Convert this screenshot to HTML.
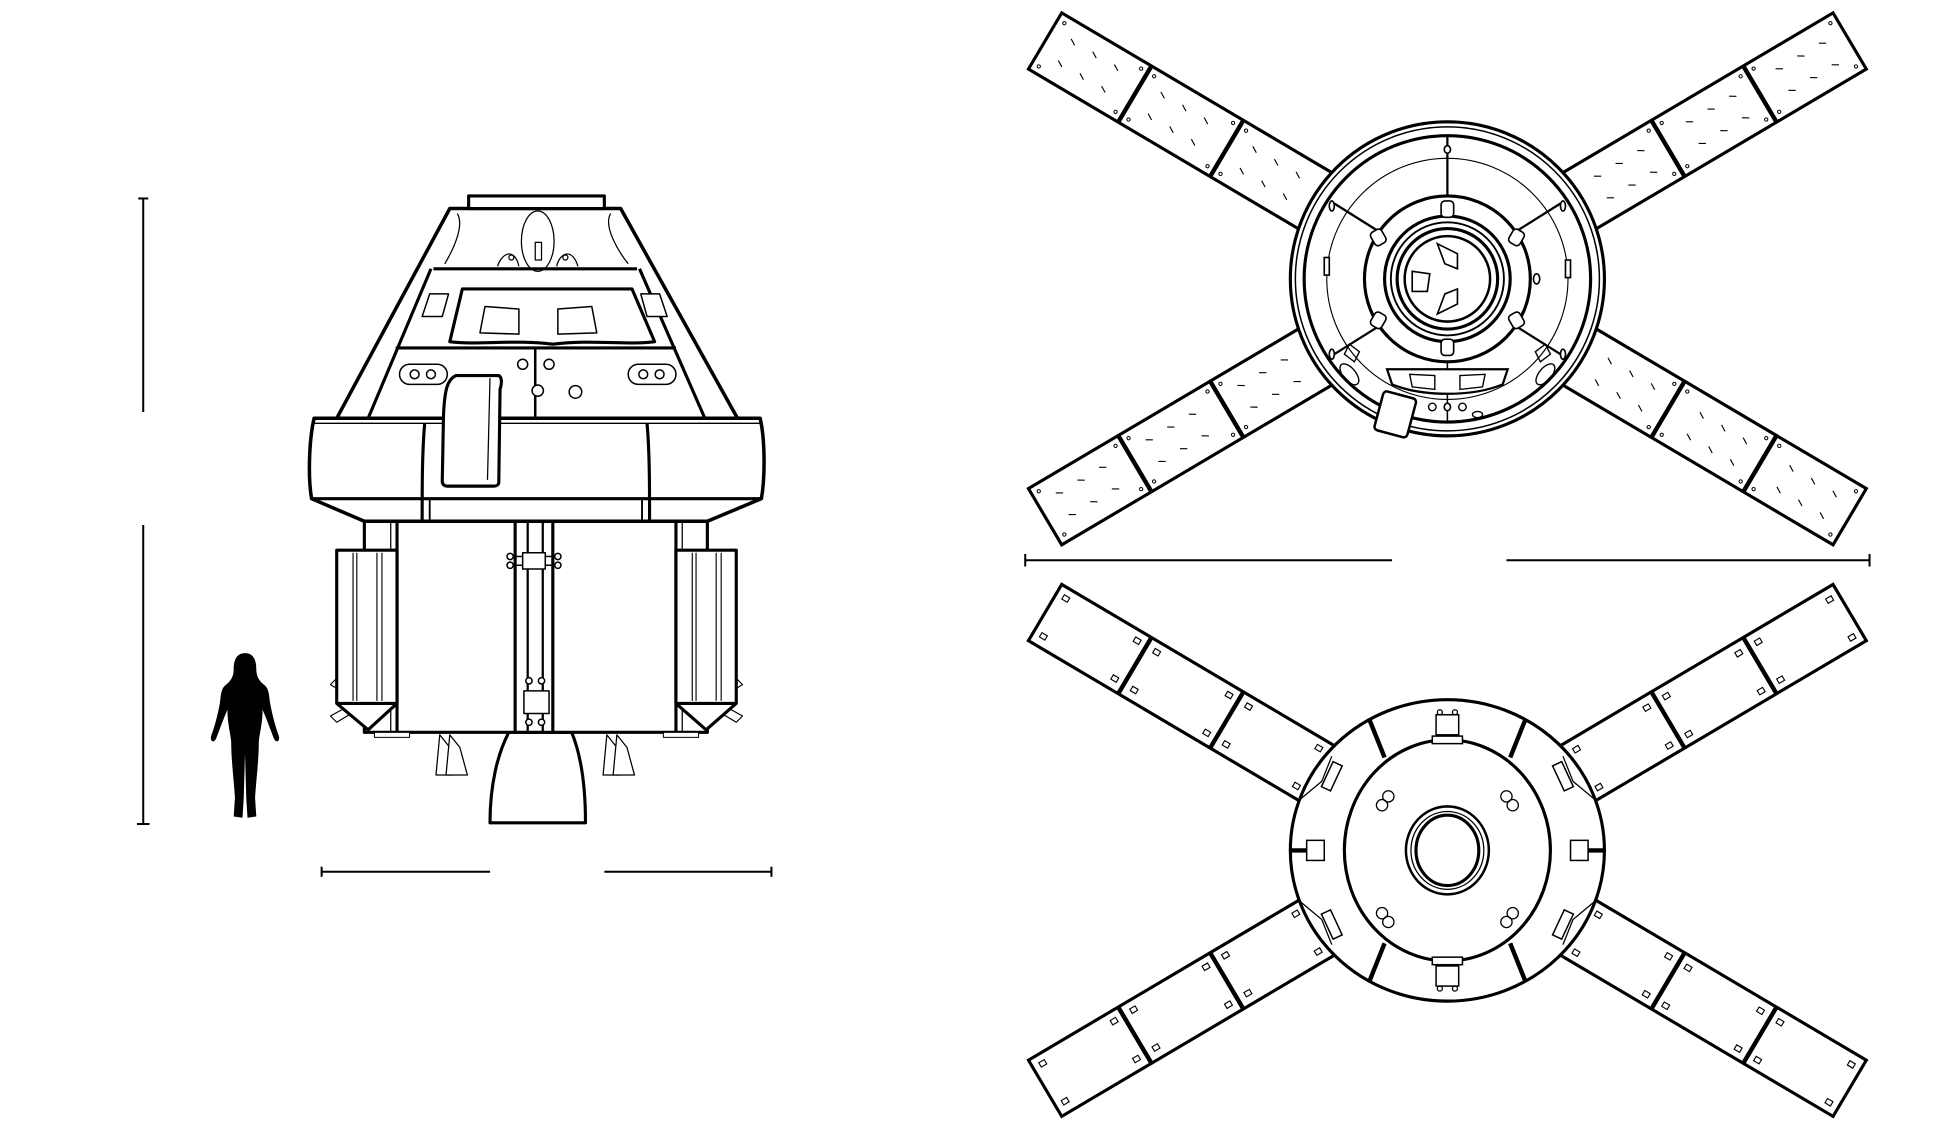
<!DOCTYPE html>
<html><head><meta charset="utf-8"><style>html,body{margin:0;padding:0;background:#fff}svg{display:block}</style></head>
<body>
<svg width="1960" height="1128" viewBox="0 0 1560 898" preserveAspectRatio="none" xmlns="http://www.w3.org/2000/svg">
<defs>
<g id="armT">
  <rect x="-372" y="-26" width="262" height="52" fill="#fff" stroke="#000" stroke-width="2.5"/>
  <line x1="-289" y1="-26" x2="-289" y2="26" stroke="#000" stroke-width="3.5"/>
  <line x1="-204" y1="-26" x2="-204" y2="26" stroke="#000" stroke-width="3.5"/>
  <g stroke="#000" stroke-width="0.9">
    <line x1="-355" y1="-12" x2="-350" y2="-9"/><line x1="-335" y1="-12" x2="-330" y2="-9"/><line x1="-315" y1="-12" x2="-310" y2="-9"/>
    <line x1="-355" y1="8" x2="-350" y2="11"/><line x1="-335" y1="8" x2="-330" y2="11"/><line x1="-315" y1="8" x2="-310" y2="11"/>
    <line x1="-272" y1="-12" x2="-267" y2="-9"/><line x1="-252" y1="-12" x2="-247" y2="-9"/><line x1="-232" y1="-12" x2="-227" y2="-9"/>
    <line x1="-272" y1="8" x2="-267" y2="11"/><line x1="-252" y1="8" x2="-247" y2="11"/><line x1="-232" y1="8" x2="-227" y2="11"/>
    <line x1="-187" y1="-12" x2="-182" y2="-9"/><line x1="-167" y1="-12" x2="-162" y2="-9"/><line x1="-147" y1="-12" x2="-142" y2="-9"/>
    <line x1="-187" y1="8" x2="-182" y2="11"/><line x1="-167" y1="8" x2="-162" y2="11"/><line x1="-147" y1="8" x2="-142" y2="11"/>
  </g>
  <g fill="none" stroke="#000" stroke-width="0.8">
    <circle cx="-366" cy="-20" r="1.3"/><circle cx="-366" cy="20" r="1.3"/><circle cx="-295" cy="-20" r="1.3"/><circle cx="-295" cy="20" r="1.3"/>
    <circle cx="-283" cy="-20" r="1.3"/><circle cx="-283" cy="20" r="1.3"/><circle cx="-210" cy="-20" r="1.3"/><circle cx="-210" cy="20" r="1.3"/>
    <circle cx="-198" cy="-20" r="1.3"/><circle cx="-198" cy="20" r="1.3"/>
  </g>
</g>
<g id="armB">
  <rect x="-372" y="-26" width="258" height="52" fill="#fff" stroke="#000" stroke-width="2.5"/>
  <line x1="-289" y1="-26" x2="-289" y2="26" stroke="#000" stroke-width="3.5"/>
  <line x1="-204" y1="-26" x2="-204" y2="26" stroke="#000" stroke-width="3.5"/>
  <g fill="none" stroke="#000" stroke-width="0.9">
    <rect x="-366" y="-20" width="5" height="4"/><rect x="-366" y="15" width="5" height="4"/><rect x="-300" y="-20" width="5" height="4"/><rect x="-300" y="15" width="5" height="4"/>
    <rect x="-282" y="-20" width="5" height="4"/><rect x="-282" y="15" width="5" height="4"/><rect x="-215" y="-20" width="5" height="4"/><rect x="-215" y="15" width="5" height="4"/>
    <rect x="-197" y="-20" width="5" height="4"/><rect x="-197" y="15" width="5" height="4"/><rect x="-132" y="-20" width="5" height="4"/><rect x="-132" y="15" width="5" height="4"/>
  </g>
</g>
</defs>

<g stroke="#000" stroke-width="1.6" fill="none">
  <line x1="114" y1="158" x2="114" y2="328"/><line x1="110" y1="158" x2="118" y2="158"/>
  <line x1="114" y1="418" x2="114" y2="656"/><line x1="109" y1="656" x2="119" y2="656"/>
  <line x1="256" y1="694" x2="390" y2="694"/><line x1="256" y1="690" x2="256" y2="698"/>
  <line x1="481" y1="694" x2="614" y2="694"/><line x1="614" y1="690" x2="614" y2="698"/>
  <line x1="816" y1="446" x2="1108" y2="446"/><line x1="816" y1="441" x2="816" y2="451"/>
  <line x1="1199" y1="446" x2="1488" y2="446"/><line x1="1488" y1="441" x2="1488" y2="451"/>
</g>

<path d="M195 520 C188 520 186 526 186 533 C186 538 184 542 180 545 C176 548 176 552 175 560 C173 570 171 578 168 586 C167 590 170 592 172 588 C175 580 178 572 181 565 C181 575 183 582 184 590 C184 605 186 620 187 635 L186 650 L193 651 L194 635 L195 600 L196 635 L197 651 L204 650 L203 635 C204 620 206 605 206 590 C207 582 209 575 209 565 C212 572 215 580 218 588 C220 592 223 590 222 586 C219 578 217 570 215 560 C214 552 214 548 210 545 C206 542 204 538 204 533 C204 526 202 520 195 520 Z" fill="#000"/>

<g stroke="#000" fill="#fff" stroke-linejoin="round">
  <g stroke-width="1" fill="#fff">
    <path d="M350 585 L347 617 L361 617 L358 595 Z"/><path d="M358 585 L355 617 L372 617 L366 595 Z"/>
    <path d="M483 585 L480 617 L494 617 L491 595 Z"/><path d="M491 585 L488 617 L505 617 L499 595 Z"/>
  </g>
  <path d="M405 583 L455 583 C462 600 466 625 466 655 L390 655 C390 625 396 600 405 583 Z" stroke-width="2.5"/>
  <rect x="290" y="415" width="273" height="168" stroke-width="2.5"/>
  <line x1="316" y1="415" x2="316" y2="583" stroke-width="2.5"/>
  <line x1="538" y1="415" x2="538" y2="583" stroke-width="2.5"/>
  <line x1="311" y1="415" x2="311" y2="583" stroke-width="1"/>
  <line x1="543" y1="415" x2="543" y2="583" stroke-width="1"/>
  <line x1="410" y1="415" x2="410" y2="583" stroke-width="2.5"/>
  <line x1="440" y1="415" x2="440" y2="583" stroke-width="2.5"/>
  <line x1="420" y1="415" x2="420" y2="583" stroke-width="1.8"/>
  <line x1="432" y1="415" x2="432" y2="583" stroke-width="1.8"/>
  <rect x="298" y="583" width="28" height="4" stroke-width="0.8"/>
  <rect x="528" y="583" width="28" height="4" stroke-width="0.8"/>
  <g stroke-width="1.2">
    <rect x="416" y="440" width="18" height="13"/>
    <circle cx="406" cy="443" r="2.5"/><circle cx="406" cy="450" r="2.5"/><circle cx="444" cy="443" r="2.5"/><circle cx="444" cy="450" r="2.5"/>
    <line x1="408" y1="443" x2="416" y2="443"/><line x1="408" y1="450" x2="416" y2="450"/><line x1="434" y1="443" x2="442" y2="443"/><line x1="434" y1="450" x2="442" y2="450"/>
    <rect x="417" y="550" width="20" height="18"/>
    <circle cx="421" cy="542" r="2.5"/><circle cx="431" cy="542" r="2.5"/><circle cx="421" cy="575" r="2.5"/><circle cx="431" cy="575" r="2.5"/>
  </g>
  <!-- side pods (in front) -->
  <g stroke-width="2.5">
    <path d="M268 438 L316 438 L316 560 L293 581 L268 560 Z"/>
    <line x1="268" y1="560" x2="316" y2="560"/>
    <path d="M538 438 L586 438 L586 560 L562 581 L538 560 Z"/>
    <line x1="538" y1="560" x2="586" y2="560"/>
  </g>
  <g stroke-width="0.9" fill="none">
    <line x1="281" y1="440" x2="281" y2="558"/><line x1="284" y1="440" x2="284" y2="558"/><line x1="300" y1="440" x2="300" y2="558"/><line x1="304" y1="440" x2="304" y2="558"/>
    <line x1="551" y1="440" x2="551" y2="558"/><line x1="554" y1="440" x2="554" y2="558"/><line x1="570" y1="440" x2="570" y2="558"/><line x1="574" y1="440" x2="574" y2="558"/>
    <path d="M268 540 L263 545 L268 548"/><path d="M586 540 L591 545 L586 548"/>
    <path d="M272 565 L263 570 L268 575 L278 569"/><path d="M582 565 L591 570 L586 575 L576 569"/>
  </g>
  <path d="M250 333 L605 333 C609 350 609 380 606 397 L563 415 L290 415 L248 397 C245 380 246 350 250 333 Z" stroke-width="2.8"/>
  <line x1="248" y1="397" x2="606" y2="397" stroke-width="2.5"/>
  <line x1="250" y1="337" x2="605" y2="337" stroke-width="1"/>
  <path d="M338 337 C336 360 336 385 336 415" fill="none" stroke-width="2.5"/>
  <line x1="342" y1="397" x2="342" y2="415" stroke-width="1.5"/>
  <path d="M515 337 C517 360 517 385 517 415" fill="none" stroke-width="2.5"/>
  <line x1="511" y1="397" x2="511" y2="415" stroke-width="1.5"/>
  <path d="M358 166 L494 166 L587 333 L268 333 Z" stroke-width="2.8"/>
  <line x1="345" y1="214" x2="507" y2="214" stroke-width="2.5"/>
  <line x1="315" y1="277" x2="538" y2="277" stroke-width="2.5"/>
  <line x1="343" y1="214" x2="293" y2="333" stroke-width="2.5"/>
  <line x1="509" y1="214" x2="561" y2="333" stroke-width="2.5"/>
  <line x1="426" y1="277" x2="426" y2="333" stroke-width="2"/>
  <rect x="373" y="156" width="108" height="10" stroke-width="2.5"/>
  <g stroke-width="1" fill="none">
    <ellipse cx="428" cy="192" rx="13" ry="24"/>
    <rect x="426" y="193" width="5" height="14"/>
    <path d="M396 212 C400 200 410 198 413 212"/><circle cx="407" cy="205" r="2"/>
    <path d="M443 212 C446 200 456 198 460 212"/><circle cx="450" cy="205" r="2"/>
    <path d="M364 170 C370 180 360 200 354 210"/><path d="M486 170 C480 180 492 200 500 210"/>
  </g>
  <path d="M368 230 L503 230 L521 272 C500 275 470 270 440 274 C410 270 380 275 358 272 Z" stroke-width="2.5"/>
  <g stroke-width="1.2">
    <path d="M386 244 L413 246 L413 266 L382 265 Z"/><path d="M444 246 L471 244 L475 265 L444 266 Z"/>
    <path d="M342 234 L357 234 L352 252 L336 252 Z"/><path d="M510 234 L525 234 L531 252 L515 252 Z"/>
  </g>
  <g stroke-width="1.2">
    <rect x="318" y="290" width="38" height="16" rx="8"/><circle cx="330" cy="298" r="3.5"/><circle cx="343" cy="298" r="3.5"/>
    <rect x="500" y="290" width="38" height="16" rx="8"/><circle cx="512" cy="298" r="3.5"/><circle cx="525" cy="298" r="3.5"/>
    <circle cx="416" cy="290" r="4"/><circle cx="437" cy="290" r="4"/><circle cx="428" cy="311" r="4.5"/><circle cx="458" cy="312" r="5"/>
  </g>
  <path d="M363 299 L397 299 C399 300 400 304 398 310 L397 384 C397 386 395 387 393 387 L356 387 C353 387 352 385 352 383 L353 330 C354 310 356 302 363 299 Z" stroke-width="2.5"/>
  <line x1="390" y1="301" x2="388" y2="382" stroke-width="1"/>
</g>

<g transform="translate(1152,222)">
  <use href="#armT" transform="rotate(30.6)"/>
  <use href="#armT" transform="rotate(-30.6)"/>
  <use href="#armT" transform="rotate(149.4)"/>
  <use href="#armT" transform="rotate(-149.4)"/>
</g>
<g transform="translate(1152,222)" stroke="#000" fill="none">
  <circle r="125" fill="#fff" stroke-width="2.5"/>
  <circle r="121" stroke-width="1.2"/>
  <circle r="114" stroke-width="2.5"/>
  <circle r="96" stroke-width="0.9"/>
  <circle r="66" stroke-width="2.5"/>
  <circle r="50" stroke-width="2.5"/>
  <circle r="45" stroke-width="1.5"/>
  <circle r="40" stroke-width="2.5"/>
  <circle r="34" stroke-width="2"/>
  <line x1="0" y1="-114" x2="0" y2="-66" stroke-width="1.8"/>
  <line x1="0" y1="66" x2="0" y2="114" stroke-width="1.2"/>
  <line x1="-90" y1="-60" x2="-55" y2="-38" stroke-width="1.8"/>
  <line x1="90" y1="-60" x2="55" y2="-38" stroke-width="1.8"/>
  <line x1="-90" y1="60" x2="-55" y2="38" stroke-width="1.8"/>
  <line x1="90" y1="60" x2="55" y2="38" stroke-width="1.8"/>
  <g stroke-width="1.3" fill="#fff">
    <ellipse cx="0" cy="-103" rx="2.5" ry="3"/><ellipse cx="0" cy="102" rx="2.5" ry="3"/>
    <ellipse cx="-92" cy="-58" rx="2" ry="4"/><ellipse cx="92" cy="-58" rx="2" ry="4"/>
    <ellipse cx="-92" cy="60" rx="2" ry="4"/><ellipse cx="92" cy="60" rx="2" ry="4"/>
    <rect x="-5" y="-62" width="10" height="13" rx="3"/><rect x="-5" y="48" width="10" height="13" rx="3"/>
    <rect x="-60" y="-39" width="10" height="12" rx="3" transform="rotate(-30 -55 -33)"/>
    <rect x="50" y="-39" width="10" height="12" rx="3" transform="rotate(30 55 -33)"/>
    <rect x="-60" y="27" width="10" height="12" rx="3" transform="rotate(30 -55 33)"/>
    <rect x="50" y="27" width="10" height="12" rx="3" transform="rotate(-30 55 33)"/>
    <ellipse cx="71" cy="0" rx="2.5" ry="4"/>
    <rect x="-98" y="-17" width="4" height="14"/><rect x="94" y="-15" width="4" height="14"/>
  </g>
  <g stroke-width="1.3">
    <path d="M-8 -28 L8 -20 L8 -8 L-2 -12 Z"/><path d="M-28 -6 L-14 -4 L-16 10 L-28 10 Z"/><path d="M-8 28 L8 20 L8 8 L-2 12 Z"/>
  </g>
  <g stroke-width="1.8" fill="#fff">
    <path d="M-48 72 L48 72 L44 84 C20 94 -20 94 -44 84 Z"/>
  </g>
  <g stroke-width="1.1">
    <path d="M-30 76 L-10 77 L-10 88 L-28 86 Z"/><path d="M10 77 L30 76 L28 86 L10 88 Z"/>
    <path d="M-78 52 L-70 58 L-74 66 L-82 60 Z"/><path d="M78 52 L70 58 L74 66 L82 60 Z"/>
    <ellipse cx="-78" cy="76" rx="5" ry="10" transform="rotate(-40 -78 76)"/><ellipse cx="78" cy="76" rx="5" ry="10" transform="rotate(40 78 76)"/>
    <circle cx="-12" cy="102" r="3"/><circle cx="12" cy="102" r="3"/><ellipse cx="24" cy="108" rx="4" ry="2.5"/>
  </g>
  <rect x="-55" y="92" width="27" height="32" rx="3" fill="#fff" stroke-width="2" transform="rotate(15 -41 108)"/>
</g>

<g transform="translate(1152,677)">
  <use href="#armB" transform="rotate(30.6)"/>
  <use href="#armB" transform="rotate(-30.6)"/>
  <use href="#armB" transform="rotate(149.4)"/>
  <use href="#armB" transform="rotate(-149.4)"/>
</g>
<g transform="translate(1152,677)" stroke="#000" fill="none">
  <ellipse rx="125" ry="120" fill="#fff" stroke-width="2.5"/>
  <ellipse rx="82" ry="88" stroke-width="2.5"/>
  <g stroke-width="3.5">
    <line x1="-62" y1="-104" x2="-50" y2="-74"/><line x1="62" y1="-104" x2="50" y2="-74"/>
    <line x1="-62" y1="104" x2="-50" y2="74"/><line x1="62" y1="104" x2="50" y2="74"/>
    <line x1="-125" y1="0" x2="-112" y2="0"/><line x1="125" y1="0" x2="112" y2="0"/>
  </g>
  <g stroke-width="1.2" fill="#fff">
    <rect x="-12" y="-91" width="24" height="6"/><rect x="-12" y="85" width="24" height="6"/>
    <rect x="-9" y="-108" width="18" height="16"/><rect x="-9" y="92" width="18" height="16"/>
    <rect x="-112" y="-8" width="14" height="16"/><rect x="98" y="-8" width="14" height="16"/>
    <rect x="-96" y="-70" width="8" height="22" transform="rotate(25 -92 -59)"/><rect x="88" y="-70" width="8" height="22" transform="rotate(-25 92 -59)"/>
    <rect x="-96" y="48" width="8" height="22" transform="rotate(-25 -92 59)"/><rect x="88" y="48" width="8" height="22" transform="rotate(25 92 59)"/>
  </g>
  <g stroke-width="1">
    <path d="M-118 -40 L-100 -55 L-92 -75 M-118 40 L-100 55 L-92 75 M118 -40 L100 -55 L92 -75 M118 40 L100 55 L92 75"/>
    <circle cx="-6" cy="-110" r="2"/><circle cx="6" cy="-110" r="2"/><circle cx="-6" cy="110" r="2"/><circle cx="6" cy="110" r="2"/>
    <circle cx="-47" cy="-43" r="4.5"/><circle cx="-52" cy="-36" r="4.5"/>
    <circle cx="47" cy="-43" r="4.5"/><circle cx="52" cy="-36" r="4.5"/>
    <circle cx="-52" cy="50" r="4.5"/><circle cx="-47" cy="57" r="4.5"/>
    <circle cx="52" cy="50" r="4.5"/><circle cx="47" cy="57" r="4.5"/>
  </g>
  <ellipse rx="33" ry="35" stroke-width="2"/>
  <ellipse rx="29" ry="31" stroke-width="1"/>
  <ellipse rx="25" ry="28" stroke-width="2.5"/>
</g>
</svg>
</body></html>
